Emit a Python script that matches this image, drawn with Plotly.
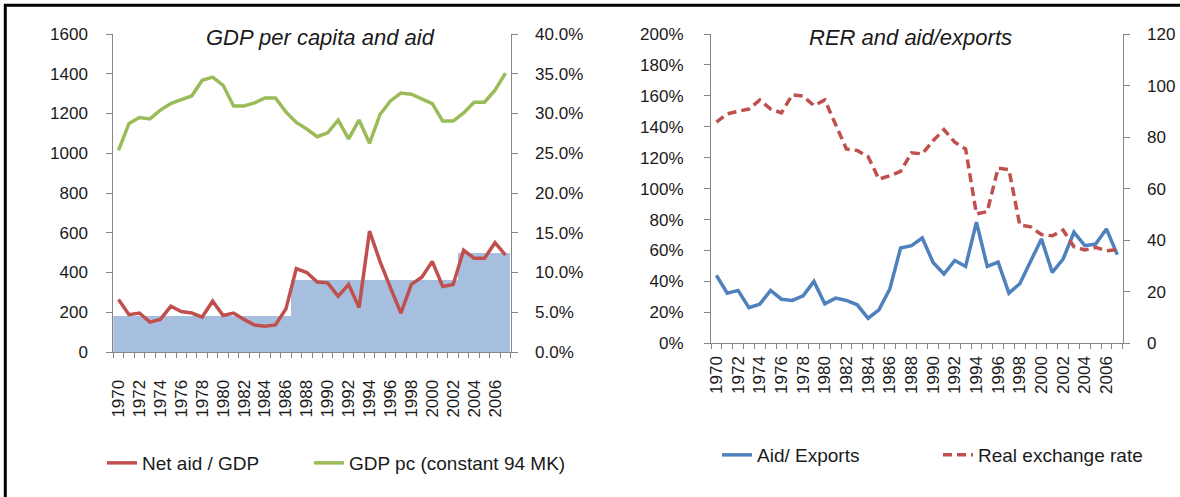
import plotly.graph_objects as go

# ---------------- data ----------------
years = list(range(1970, 2008))
year_labels = list(range(1970, 2007, 2))

gdp_pc = [1015, 1150, 1180, 1173, 1217, 1250, 1270, 1288, 1367, 1383,
          1342, 1238, 1238, 1253, 1278, 1278, 1208, 1155, 1122, 1083,
          1103, 1167, 1072, 1167, 1050, 1195, 1263, 1303, 1297, 1272,
          1250, 1162, 1162, 1203, 1257, 1257, 1317, 1403]

net_aid_gdp = [0.066, 0.047, 0.049, 0.0375, 0.041, 0.0575, 0.051, 0.049, 0.044, 0.064,
               0.046, 0.049, 0.041, 0.034, 0.0325, 0.034, 0.054, 0.105, 0.100, 0.088,
               0.087, 0.070, 0.085, 0.056, 0.152, 0.114, 0.081, 0.049, 0.085, 0.094,
               0.114, 0.0825, 0.085, 0.128, 0.118, 0.118, 0.1375, 0.122]

# period averages of aid/GDP (shaded area)
period_start = [1970, 1987, 2003]
period_end = [1986, 2002, 2007]
period_avg = [0.0458, 0.090, 0.125]

aid_exports = [0.439, 0.324, 0.342, 0.231, 0.253, 0.342, 0.285, 0.277, 0.307, 0.400,
               0.255, 0.292, 0.277, 0.249, 0.162, 0.216, 0.350, 0.616, 0.631, 0.681,
               0.523, 0.448, 0.536, 0.497, 0.783, 0.497, 0.525, 0.324, 0.385, 0.525,
               0.675, 0.458, 0.545, 0.718, 0.631, 0.642, 0.739, 0.573]

rer = [85.8, 89.0, 90.0, 90.9, 94.4, 90.9, 89.4, 96.4, 95.9, 92.2,
       94.4, 85.1, 75.4, 74.8, 72.4, 63.7, 65.0, 66.7, 73.9, 73.5,
       78.6, 82.9, 78.0, 75.4, 50.2, 51.1, 68.0, 67.4, 45.9, 45.2,
       42.2, 41.7, 43.9, 37.5, 36.2, 37.2, 35.9, 36.4]

# ---------------- styling ----------------
W, H = 1180, 497
FONT = "Liberation Sans, Arial, sans-serif"
AXIS = "#868686"
TXT = "#1a1a1a"
RED = "#C0504D"
GREEN = "#9BBB59"
BLUE = "#4F81BD"
AREA = "#A7BFDE"

def px_x(p):
    return p / W

def px_y(p):
    return 1 - p / H

avg_by_year = []
for y in years:
    for s, e, v in zip(period_start, period_end, period_avg):
        if s <= y <= e:
            avg_by_year.append(v)

fig = go.Figure()

# Left chart
fig.add_trace(go.Bar(x=years, y=avg_by_year, marker=dict(color=AREA, line=dict(width=0)),
                     xaxis="x", yaxis="y2", showlegend=False, hoverinfo="skip"))
fig.add_trace(go.Scatter(x=years, y=net_aid_gdp, mode="lines", name="Net aid / GDP",
                         line=dict(color=RED, width=3.5), xaxis="x", yaxis="y2",
                         legend="legend"))
fig.add_trace(go.Scatter(x=years, y=gdp_pc, mode="lines", name="GDP pc (constant 94 MK)",
                         line=dict(color=GREEN, width=3.5), xaxis="x", yaxis="y",
                         legend="legend2"))

# Right chart
fig.add_trace(go.Scatter(x=years, y=aid_exports, mode="lines", name="Aid/ Exports",
                         line=dict(color=BLUE, width=3.5), xaxis="x2", yaxis="y3",
                         legend="legend3"))
fig.add_trace(go.Scatter(x=years, y=rer, mode="lines", name="Real exchange rate",
                         line=dict(color=RED, width=3.5, dash="9px,5px"), xaxis="x2", yaxis="y4",
                         legend="legend4"))

tickfont = dict(family=FONT, size=17, color=TXT)

def xaxis_cfg(domain, anchor, gap):
    return dict(domain=domain, anchor=anchor, range=[1969.5, 2007.5], automargin=False,
                tickmode="array", tickvals=year_labels, ticktext=[str(v) for v in year_labels],
                tickangle=-90, ticks="outside", ticklen=gap, tickcolor="rgba(0,0,0,0)",
                showline=True, linecolor=AXIS, linewidth=1,
                showgrid=False, zeroline=False, tickfont=tickfont,
                minor=dict(tickmode="linear", tick0=1969.5, dtick=1, ticks="outside",
                           ticklen=5, tickcolor=AXIS, tickwidth=1, showgrid=False))

def yaxis_cfg(domain, rng, dtick, fmt, side, anchor, standoff, overlaying=None):
    d = dict(domain=domain, range=rng, dtick=dtick, tickformat=fmt, side=side,
             anchor=anchor, showline=True, linecolor=AXIS, linewidth=1, automargin=False,
             ticks="outside", ticklen=6, tickcolor=AXIS, showgrid=False,
             zeroline=False, tickfont=tickfont, ticklabelstandoff=standoff)
    if overlaying:
        d["overlaying"] = overlaying
    return d

def legend_cfg(text_x, y):
    return dict(orientation="h", x=px_x(text_x - 40), y=px_y(y), xanchor="left",
                yanchor="middle", font=dict(family=FONT, size=19, color=TXT),
                bgcolor="rgba(0,0,0,0)", itemwidth=30)

L_dom_x = [px_x(113.3), px_x(510.7)]
L_dom_y = [px_y(352), px_y(34)]
R_dom_x = [px_x(711), px_x(1122.7)]
R_dom_y = [px_y(343.3), px_y(34)]

fig.update_layout(
    width=W, height=H,
    margin=dict(l=0, r=0, t=0, b=0, autoexpand=False),
    paper_bgcolor="white", plot_bgcolor="rgba(0,0,0,0)",
    font=dict(family=FONT, color=TXT),
    bargap=0,
    xaxis=xaxis_cfg(L_dom_x, "y", 20),
    xaxis2=xaxis_cfg(R_dom_x, "y3", 5),
    yaxis=yaxis_cfg(L_dom_y, [0, 1600], 200, "d", "left", "x", 15),
    yaxis2=yaxis_cfg(L_dom_y, [0, 0.4], 0.05, ".1%", "right", "x", 14, overlaying="y"),
    yaxis3=yaxis_cfg(R_dom_y, [0, 2.0], 0.2, ".0%", "left", "x2", 17),
    yaxis4=yaxis_cfg(R_dom_y, [0, 120], 20, "d", "right", "x2", 14, overlaying="y3"),
    legend=legend_cfg(142, 463),
    legend2=legend_cfg(349, 463),
    legend3=legend_cfg(757, 455),
    legend4=legend_cfg(978, 455),
    annotations=[
        dict(text="GDP per capita and aid", xref="paper", yref="paper",
             x=px_x(320), y=px_y(37), xanchor="center", yanchor="middle", showarrow=False,
             font=dict(family=FONT, size=22, color=TXT, style="italic")),
        dict(text="RER and aid/exports", xref="paper", yref="paper",
             x=px_x(910), y=px_y(37), xanchor="center", yanchor="middle", showarrow=False,
             font=dict(family=FONT, size=22, color=TXT, style="italic")),
    ],
    shapes=[
        dict(type="line", xref="paper", yref="paper", x0=px_x(4), x1=1, y0=px_y(5.3), y1=px_y(5.3),
             line=dict(color="black", width=3)),
        dict(type="line", xref="paper", yref="paper", x0=px_x(5.3), x1=px_x(5.3), y0=0, y1=px_y(4),
             line=dict(color="black", width=3)),
    ],
)

fig.write_html("out.html", config={"displayModeBar": False},
               post_script="document.body.style.margin='0';document.body.style.overflow='hidden';")
